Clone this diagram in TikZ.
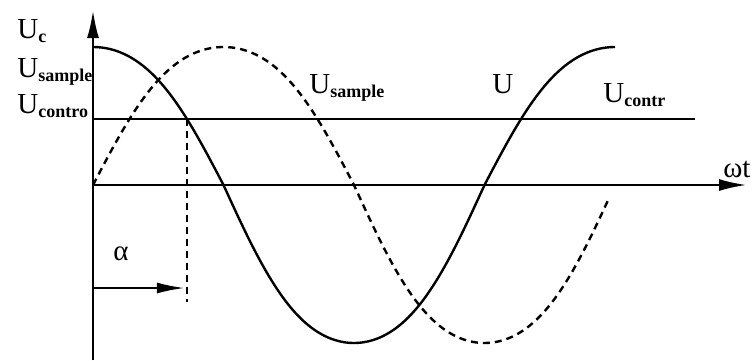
\documentclass[tikz,border=0pt]{standalone}
\usepackage{fontspec}
\setmainfont{Liberation Serif}
\usetikzlibrary{arrows.meta,positioning,calc,intersections}
\newcommand{\lowsub}[1]{\raisebox{-2pt}{\fontsize{9}{10}\selectfont\bfseries #1}}

\begin{document}
\begin{tikzpicture}[
  x=0.5pt,y=0.5pt,
  font=\fontsize{14.5}{16}\selectfont,
  lbl/.style={inner sep=0pt,anchor=base west},
  thin line/.style={line width=1.3pt},
  axis/.style={line width=1.3pt,-{Latex[length=14pt,width=6pt]}},
  arr/.style={line width=1.2pt,-{Latex[length=14pt,width=5.5pt]},shorten >=1pt},
  wave/.style={line width=1.2pt,samples=150,smooth},
  dashline/.style={dash pattern=on 3.5pt off 2.5pt},
  declare function={uc(\t)=ifthenelse(cos(\t)>0,138,158)*cos(\t)*(1+0.15*sin(\t)^2);}
]
\useasboundingbox (-93,-175) rectangle (660,185);
\coordinate (o) at (0,0);
\coordinate (ybot) at (0,-175);
\coordinate (ytop) at (0,175);
\coordinate (xend) at (654,0);
\coordinate (c0) at (0,66);
\coordinate (c1) at (602,66);
\coordinate (alow) at (0,-117);
\coordinate (astart) at (0,-103);
\draw[axis] (ybot) -- (ytop);
\draw[axis] (o) -- (xend);
\draw[thin line,name path=ctrl] (c0) -- (c1);
\draw[wave,name path=solid] plot[domain=0:360] ({1.45*\x},{uc(\x)});
\draw[wave,dashline] plot[domain=0:356] ({1.45*\x},{uc(\x-90)});
\path[name intersections={of=solid and ctrl,by=cut}];
\draw[thin line,dashline] (cut) -- (cut |- alow);
\draw[arr] (astart) -- (cut |- astart);
\node[lbl] (ucl) at (-76,147) {U\lowsub{c}};
\node[lbl] (usl) at (-76,108) {U\lowsub{sample}};
\node[lbl] (uctl) at (-76,72) {U\lowsub{contro}};
\node[lbl] (us) at (216,92) {U\lowsub{sample}};
\node[lbl] (u) at (399,92) {U};
\node[lbl] (uct) at (510,83) {U\lowsub{contr}};
\node[lbl] (wt) at (630,8) {ωt};
\node[lbl] (al) at (20,-75) {α};
\end{tikzpicture}
\end{document}
